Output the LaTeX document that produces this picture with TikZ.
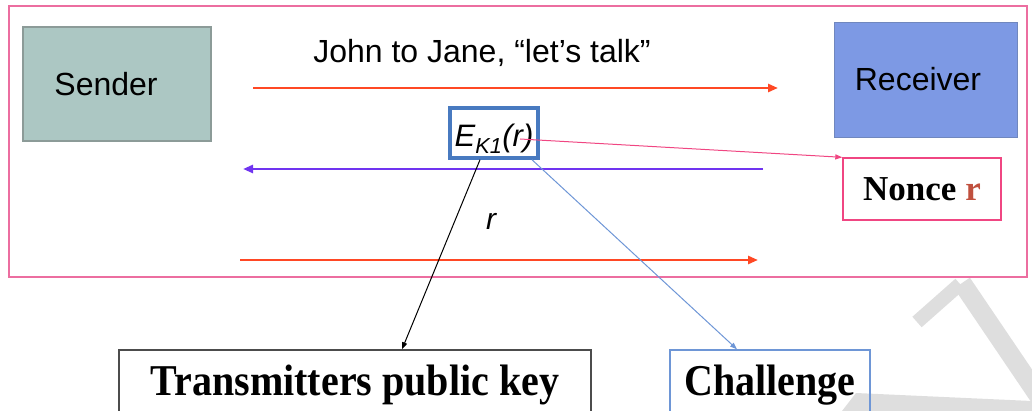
\documentclass[tikz,border=0pt]{standalone}
\usepackage{fontspec}
\usepackage{graphicx}
\setmainfont{Liberation Serif}
\setsansfont{Liberation Sans}
\usetikzlibrary{arrows.meta}

\definecolor{framepink}{RGB}{236,110,160}
\definecolor{senderfill}{RGB}{172,199,195}
\definecolor{senderline}{RGB}{140,155,152}
\definecolor{receiverfill}{RGB}{125,153,228}
\definecolor{receiverline}{RGB}{112,135,190}
\definecolor{msgred}{RGB}{255,72,36}
\definecolor{msgpurple}{RGB}{112,52,240}
\definecolor{keyblue}{RGB}{72,122,192}
\definecolor{linkpink}{RGB}{240,70,130}
\definecolor{noncered}{RGB}{192,80,62}
\definecolor{chalblue}{RGB}{110,150,214}
\definecolor{markgray}{RGB}{222,222,222}

\begin{document}
\begin{tikzpicture}[x=1pt,y=-1pt,
		party/.style={line width=1.2pt, inner sep=0pt, font=\sffamily\fontsize{32}{36}\selectfont},
		msg/.style={line width=2.6pt, -{Triangle[length=10pt,width=8pt]}},
		saytext/.style={font=\sffamily\fontsize{32}{36}\selectfont, anchor=base},
		tagbox/.style={draw, line width=1.4pt, inner sep=0pt, font=\bfseries\fontsize{40}{46}\selectfont},
		pointer/.style={line width=1pt, -{Triangle[length=7pt,width=5pt]}}]
	\useasboundingbox (0,0) rectangle (1032,411);
	\clip (0,0) rectangle (1032,411);
	% faint mark in the lower right corner
	\draw[markgray, line width=14pt] (917,322) -- (960,284);
	\draw[markgray, line width=19pt] (962,283) -- (1048,410);
	\fill[markgray] (842,411) -- (856,393) -- (1032,401) -- (1032,411) -- cycle;
	% frame round the exchange
	\draw[framepink, line width=1.6pt] (9,6) rectangle (1027,277);
	\node[party, draw=senderline, fill=senderfill, minimum width=188pt, minimum height=114pt,
		label={[xshift=-11pt, party]center:Sender}] (sender) at (117,84) {};
	\node[party, draw=receiverline, fill=receiverfill, minimum width=183pt, minimum height=115pt,
		label={[xshift=-8pt, yshift=1pt, party]center:Receiver}] (receiver) at (926,80) {};
	% messages
	\coordinate (m1a) at (253,88);
	\coordinate (m1b) at (778,88);
	\coordinate (m2a) at (763,169);
	\coordinate (m2b) at (243,169);
	\coordinate (m3a) at (240,260);
	\coordinate (m3b) at (758,260);
	\node[saytext] (hello) at (482,63) {John to Jane, “let’s talk”};
	\draw[msg, msgred] (m1a) -- (m1b);
	\draw[msg, msgpurple] (m2a) -- (m2b);
	\draw[msg, msgred] (m3a) -- (m3b);
	\node[saytext, font=\sffamily\itshape\fontsize{30}{36}\selectfont] (reply) at (491,230) {r};
	\node[draw=keyblue, line width=3.5pt, inner sep=0pt, minimum width=88pt, minimum height=50pt,
		text height=30pt, text depth=2pt, font=\sffamily\itshape\fontsize{31}{36}\selectfont] (cipher) at (494,133) {E\textsubscript{K1}(r)};
	% what the parts stand for
	\node[tagbox, draw=linkpink, minimum width=158pt, minimum height=62pt,
		font=\bfseries\fontsize{35}{40}\selectfont] (nonce) at (922,189) {Nonce \textcolor{noncered}{r}};
	\node[tagbox, draw=black!70, minimum width=472pt, minimum height=70pt] (pubkey) at (355,385) {\scalebox{1}[1.1]{Transmitters public key}};
	\node[tagbox, draw=chalblue, minimum width=200pt, minimum height=70pt] (challenge) at (770,385) {\scalebox{1}[1.1]{Challenge}};
	\draw[pointer, linkpink] ([xshift=26pt, yshift=-6pt]cipher.center) -- (nonce.north west);
	\draw[pointer, black] ([xshift=-14pt]cipher.south) -- ([xshift=47pt]pubkey.north);
	\draw[pointer, chalblue] ([xshift=38pt]cipher.south) -- ([xshift=-33pt]challenge.north);
\end{tikzpicture}
\end{document}
